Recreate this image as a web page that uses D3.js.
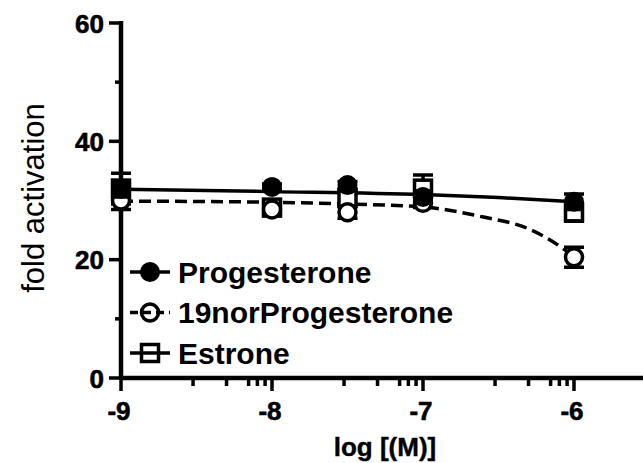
<!DOCTYPE html>
<html>
<head>
<meta charset="utf-8">
<script src="https://cdn.jsdelivr.net/npm/d3@7"></script>
<style>
  body { margin: 0; background: #fff; }
  svg { display: block; }
</style>
</head>
<body>
<svg width="643" height="463"></svg>
<script>
// doses (log M)
const doses = [-9, -8, -7.5, -7, -6];

// mean fold activation per series
const progesterone = [32.0, 32.3, 32.6, 30.6, 29.8];
const progesteroneErr = [1.4, 0.5, 0.6, 1.0, 1.3];
const norProgesterone = [30.0, 28.5, 28.0, 29.6, 20.4];
const norProgesteroneErr = [1.5, 0.6, 1.0, 0.8, 1.7];
const estrone = [32.0, 28.8, 30.4, 32.0, 28.0];
const estroneErr = [2.6, 0.8, 1.0, 2.3, 1.5];

// fitted curves as seen in the picture [logM, value]
const progesteroneFit = [[-9, 31.9], [-8, 31.5], [-7, 31.0], [-6.5, 30.5], [-6, 29.8]];
const norProgesteroneFit = [[-9, 29.9], [-8, 29.7], [-7.5, 29.4], [-7, 28.9], [-6.6, 27.2], [-6.3, 25.2], [-6.15, 23.2], [-6, 20.5]];

const xTicks = [-9, -8, -7, -6];
const yTicks = [0, 20, 40, 60];
const yMinor = [10, 30, 50];
const minorMult = [3, 5, 7, 8, 9];

const legendNames = ["Progesterone", "19norProgesterone", "Estrone"];

const svg = d3.select("svg");
const x = d3.scaleLinear().domain([-9, -5.5]).range([121, 649.5]);
const y = d3.scaleLinear().domain([0, 60]).range([378, 23]);

const g = svg.append("g");
const font = "Liberation Sans, Arial, sans-serif";

// axes, drawn by hand to get the prism look
g.append("line").attr("x1", x(-9)).attr("x2", 643).attr("y1", y(0)).attr("y2", y(0))
  .attr("stroke", "#000").attr("stroke-width", 4.5);
g.append("line").attr("x1", x(-9)).attr("x2", x(-9)).attr("y1", y(0) + 2).attr("y2", y(60) - 2)
  .attr("stroke", "#000").attr("stroke-width", 4.5);

// y ticks
g.selectAll(".ytick").data(yTicks).join("line")
  .attr("x1", x(-9) - 12).attr("x2", x(-9)).attr("y1", d => y(d)).attr("y2", d => y(d))
  .attr("stroke", "#000").attr("stroke-width", 3.5);
g.selectAll(".yminor").data(yMinor).join("line")
  .attr("x1", x(-9) - 6).attr("x2", x(-9)).attr("y1", d => y(d)).attr("y2", d => y(d))
  .attr("stroke", "#000").attr("stroke-width", 3.5);
g.selectAll(".ylab").data(yTicks).join("text")
  .attr("x", 104).attr("y", d => y(d) + 9.5)
  .attr("text-anchor", "end")
  .attr("font-family", font).attr("font-weight", "bold")
  .attr("stroke", "#000").attr("stroke-width", 0.6)
  .attr("font-size", 26).text(d => d);

// x ticks (log minor ticks between decades)
g.selectAll(".xtick").data(xTicks).join("line")
  .attr("x1", d => x(d)).attr("x2", d => x(d)).attr("y1", y(0)).attr("y2", y(0) + 13)
  .attr("stroke", "#000").attr("stroke-width", 3.5);
const minorPos = [];
xTicks.slice(0, 3).forEach(t => minorMult.forEach(m => minorPos.push(t + Math.log10(m))));
g.selectAll(".xminor").data(minorPos).join("line")
  .attr("x1", d => x(d)).attr("x2", d => x(d)).attr("y1", y(0)).attr("y2", y(0) + 8)
  .attr("stroke", "#000").attr("stroke-width", 3.5);
g.selectAll(".xlab").data(xTicks).join("text")
  .attr("x", d => x(d) - 2).attr("y", 420)
  .attr("text-anchor", "middle")
  .attr("font-family", font).attr("font-weight", "bold")
  .attr("stroke", "#000").attr("stroke-width", 0.6)
  .attr("font-size", 26).text(d => d);

// axis titles
svg.append("text").attr("x", 385).attr("y", 456).attr("text-anchor", "middle")
  .attr("font-family", font).attr("font-weight", "bold")
  .attr("stroke", "#000").attr("stroke-width", 0.4)
  .attr("font-size", 26).text("log [(M)]");
svg.append("text").attr("transform", "translate(44,198) rotate(-90)").attr("text-anchor", "middle")
  .attr("font-family", font)
  .attr("font-size", 31).text("fold activation");

// fit lines
const line = d3.line().x(d => x(d[0])).y(d => y(d[1])).curve(d3.curveMonotoneX);
g.append("path").attr("d", line(progesteroneFit)).attr("fill", "none")
  .attr("stroke", "#000").attr("stroke-width", 3.5);
g.append("path").attr("d", line(norProgesteroneFit)).attr("fill", "none")
  .attr("stroke", "#000").attr("stroke-width", 3.5).attr("stroke-dasharray", "12,6");

// error bars + markers
function drawSeries(vals, errs, shape) {
  const pts = doses.map((d, i) => ({ x: d, v: vals[i], e: errs[i] }));
  const s = g.append("g");
  s.selectAll(".eb").data(pts).join("path")
    .attr("d", d => `M${x(d.x)},${y(d.v - d.e)}V${y(d.v + d.e)}` +
      `M${x(d.x) - 10},${y(d.v + d.e)}h20M${x(d.x) - 10},${y(d.v - d.e)}h20`)
    .attr("stroke", "#000").attr("stroke-width", 3.5).attr("fill", "none");
  if (shape == "square") {
    s.selectAll(".m").data(pts).join("rect")
      .attr("x", d => x(d.x) - 8.5).attr("y", d => y(d.v) - 8.5)
      .attr("width", 17).attr("height", 17)
      .attr("fill", "#fff").attr("stroke", "#000").attr("stroke-width", 3.5);
  } else {
    s.selectAll(".m").data(pts).join("circle")
      .attr("cx", d => x(d.x)).attr("cy", d => y(d.v)).attr("r", shape == "filled" ? 10 : 8.5)
      .attr("fill", shape == "filled" ? "#000" : "#fff")
      .attr("stroke", "#000").attr("stroke-width", shape == "filled" ? 0 : 3.5);
  }
}
drawSeries(estrone, estroneErr, "square");
drawSeries(norProgesterone, norProgesteroneErr, "open");
drawSeries(progesterone, progesteroneErr, "filled");

// legend
const leg = svg.append("g").attr("transform", "translate(130,272)");
legendNames.forEach((name, i) => {
  const row = leg.append("g").attr("transform", `translate(0,${i * 40.5})`);
  row.append("line").attr("x1", 0).attr("x2", 40).attr("y1", 0).attr("y2", 0)
    .attr("stroke", "#000").attr("stroke-width", 3.5)
    .attr("stroke-dasharray", i == 1 ? "8,5" : null);
  if (i == 0) row.append("circle").attr("cx", 20).attr("r", 10).attr("fill", "#000");
  if (i == 1) row.append("circle").attr("cx", 20).attr("r", 8.5).attr("fill", "none")
    .attr("stroke", "#000").attr("stroke-width", 3.5);
  if (i == 2) row.append("rect").attr("x", 11.5).attr("y", -8.5).attr("width", 17).attr("height", 17)
    .attr("fill", "none").attr("stroke", "#000").attr("stroke-width", 3.5);
  row.append("text").attr("x", 48).attr("y", 10.5)
    .attr("font-family", font).attr("font-weight", "bold")
    .attr("font-size", 30).text(name);
});
</script>
</body>
</html>
